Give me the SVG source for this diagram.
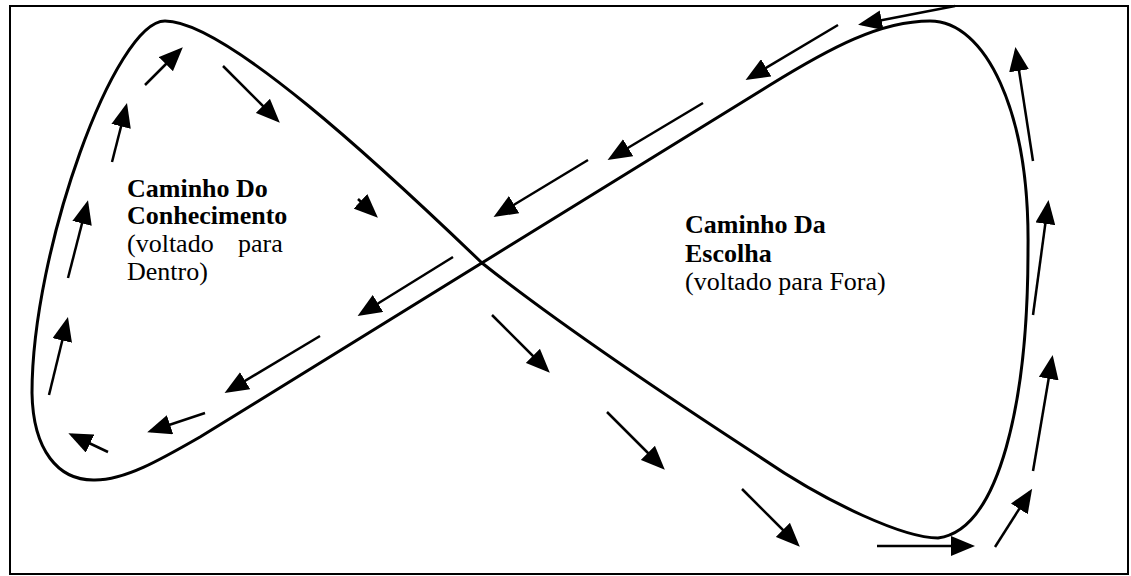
<svg xmlns="http://www.w3.org/2000/svg" width="1131" height="576" viewBox="0 0 1131 576">
  <style>
    .frame { fill: none; stroke: #000; stroke-width: 2; }
    .loop { fill: none; stroke: #000; stroke-width: 3; stroke-linejoin: round; }
    .arrow { fill: none; stroke: #000; stroke-width: 2.5; marker-end: url(#head); }
    .title { font-family: "Liberation Serif", "Times New Roman", serif; font-size: 26px; font-weight: bold; fill: #000; }
    .sub { font-family: "Liberation Serif", "Times New Roman", serif; font-size: 26px; fill: #000; }
  </style>
  <defs>
    <marker id="head" markerUnits="userSpaceOnUse" markerWidth="24" markerHeight="20" refX="20" refY="10" orient="auto">
      <path d="M0,0 L24,10 L0,20 Z" fill="#000"/>
    </marker>
  </defs>
  <rect width="1131" height="576" fill="#fff"/>

  <!-- outer frame -->
  <rect class="frame" x="10" y="6" width="1118" height="568"/>

  <!-- figure-eight path through the central crossing -->
  <g id="loop">
    <path class="loop" d="M482,263
      C380,165 225,21 165,21
      C115,21 32,250 32,393
      C33,450 58,481 95,480
      C125,480 160,460 200,437
      L770,85
      C830,48 880,21 930,21
      C985,21 1030,110 1028,250
      C1028,400 1000,530 938,538
      C905,538 830,505 760,457
      C660,392 560,325 482,263 Z"/>
  </g>

  <!-- direction arrows along the path -->
  <g id="connectors">
    <!-- left lobe, rising on the outer side -->
    <line class="arrow" x1="145" y1="85" x2="180" y2="50"/>
    <line class="arrow" x1="112" y1="162" x2="126" y2="107"/>
    <line class="arrow" x1="68" y1="278" x2="87" y2="204"/>
    <line class="arrow" x1="49" y1="395" x2="67" y2="321"/>
    <line class="arrow" x1="108" y1="452" x2="72" y2="435"/>
    <line class="arrow" x1="205" y1="413" x2="151" y2="431"/>
    <!-- lower diagonal, heading down-left -->
    <line class="arrow" x1="320" y1="336" x2="228" y2="391"/>
    <line class="arrow" x1="453" y1="257" x2="361" y2="314"/>
    <line class="arrow" x1="588" y1="160" x2="497" y2="215"/>
    <line class="arrow" x1="703" y1="103" x2="611" y2="158"/>
    <line class="arrow" x1="838" y1="25" x2="749" y2="78"/>
    <line class="arrow" x1="955" y1="6" x2="862" y2="24"/>
    <!-- left lobe, descending towards the crossing -->
    <line class="arrow" x1="223" y1="66" x2="277" y2="120"/>
    <line class="arrow" x1="358" y1="199" x2="375" y2="215"/>
    <!-- right lobe, descending then rising -->
    <line class="arrow" x1="492" y1="315" x2="547" y2="370"/>
    <line class="arrow" x1="607" y1="412" x2="662" y2="467"/>
    <line class="arrow" x1="742" y1="489" x2="797" y2="544"/>
    <line class="arrow" x1="877" y1="546" x2="971" y2="546"/>
    <line class="arrow" x1="995" y1="547" x2="1030" y2="492"/>
    <line class="arrow" x1="1033" y1="471" x2="1052" y2="359"/>
    <line class="arrow" x1="1033" y1="315" x2="1048" y2="204"/>
    <line class="arrow" x1="1033" y1="161" x2="1016" y2="51"/>
  </g>

  <!-- labels -->
  <g id="label-conhecimento">
    <text class="title" x="127" y="197">Caminho Do</text>
    <text class="title" x="127" y="224">Conhecimento</text>
    <text class="sub" x="127" y="252">(voltado</text>
    <text class="sub" x="238" y="252">para</text>
    <text class="sub" x="127" y="280">Dentro)</text>
  </g>
  <g id="label-escolha">
    <text class="title" x="685" y="233">Caminho Da</text>
    <text class="title" x="685" y="262">Escolha</text>
    <text class="sub" x="685" y="290">(voltado para Fora)</text>
  </g>
</svg>
